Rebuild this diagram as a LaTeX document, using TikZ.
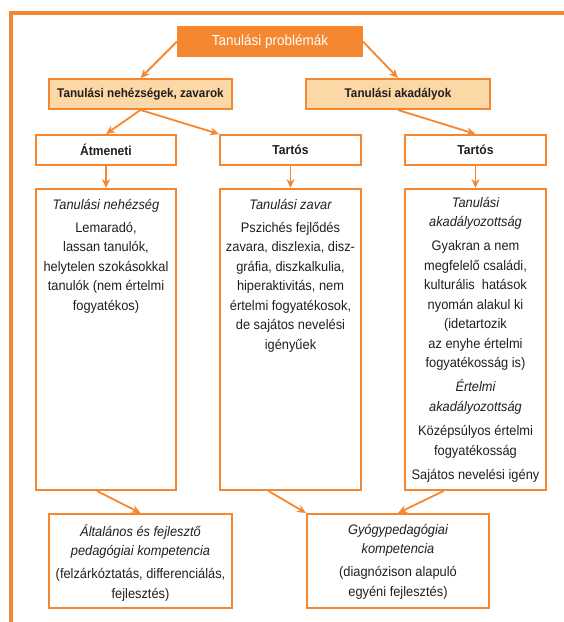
\documentclass[tikz,border=0pt]{standalone}
\usepackage{fontspec}
\setmainfont{Liberation Sans}[FakeStretch=0.93]
\usetikzlibrary{arrows.meta,calc}
\definecolor{org}{RGB}{245,135,48}
\definecolor{lightorg}{RGB}{252,216,166}
\definecolor{ink}{RGB}{35,30,25}
\tikzset{
  box/.style={draw=org, line width=2pt, inner sep=0pt},
  hdr/.style={box, fill=lightorg, font=\fontsize{12.6}{15}\selectfont\bfseries, text=ink},
  sub/.style={box, fill=white, font=\fontsize{13}{15}\selectfont\bfseries, text=ink},
  txt/.style={inner sep=0pt, align=center, anchor=north, text=ink, font=\fontsize{13.8}{19.5}\selectfont},
  arr/.style={draw=org, line width=1.8pt, -{Stealth[length=9pt,width=8pt]}},
}
\begin{document}
\begin{tikzpicture}[x=1pt,y=-1pt]
\useasboundingbox (0,0) rectangle (564,622);
% frame
\draw[org, line width=3.5pt] (11,622) -- (11,13) -- (564,13);
% top
\node[box, fill=org, text=white, font=\fontsize{14.5}{15}\selectfont, minimum width=184pt, minimum height=29pt] (top) at (270,41.5) {Tanulási problémák};
\node[hdr, minimum width=183pt, minimum height=30pt] (nehez) at (140.5,94) {Tanulási nehézségek, zavarok};
\node[hdr, minimum width=184pt, minimum height=30pt] (akad) at (398,94) {Tanulási akadályok};
\node[sub, minimum width=140pt, minimum height=30pt] (atm) at (106,150) {Átmeneti};
\node[sub, minimum width=141pt, minimum height=30pt] (t1) at (290.5,150) {Tartós};
\node[sub, minimum width=141pt, minimum height=30pt] (t2) at (475.5,150) {Tartós};
% big boxes
\node[box, minimum width=140pt, minimum height=301pt] (b1) at (106,339.5) {};
\node[box, minimum width=141pt, minimum height=301pt] (b2) at (290.5,339.5) {};
\node[box, minimum width=141pt, minimum height=301pt] (b3) at (475.5,339.5) {};
\node[txt] (b1t) at (106,199) {\itshape Tanulási nehézség\\[3.5pt]
Lemaradó,\\ lassan tanulók,\\ helytelen szokásokkal\\ tanulók (nem értelmi\\ fogyatékos)};
\node[txt] (b2t) at (290.5,199) {\itshape Tanulási zavar\\[3.5pt]
Pszichés fejlődés\\ zavara, diszlexia, disz-\\ gráfia, diszkalkulia,\\ hiperaktivitás, nem\\ értelmi fogyatékosok,\\ de sajátos nevelési\\ igényűek};
\node[txt] (b3t) at (475.5,197) {\itshape Tanulási\\ \itshape akadályozottság\\[4.5pt]
Gyakran a nem\\ megfelelő családi,\\ kulturális \ hatások\\ nyomán alakul ki\\ (idetartozik\\ az enyhe értelmi\\ fogyatékosság is)\\[4.5pt]
\itshape Értelmi\\ \itshape akadályozottság\\[5pt]
Középsúlyos értelmi\\ fogyatékosság\\[5pt]
Sajátos nevelési igény};
% bottom boxes
\node[box, minimum width=183pt, minimum height=94pt] (k1) at (140.5,561) {};
\node[box, minimum width=182pt, minimum height=94pt] (k2) at (398,561) {};
\node[txt] (k1t) at (140.5,524) {\itshape Általános és fejlesztő\\ \itshape pedagógiai kompetencia\\[3.5pt]
(felzárkóztatás, differenciálás,\\ fejlesztés)};
\node[txt] (k2t) at (398,524) {\itshape Gyógypedagógiai\\ \itshape kompetencia\\[3.5pt]
(diagnózison alapuló\\ egyéni fejlesztés)};
% arrows
\draw[arr] (top.west) -- (nehez.north);
\draw[arr] (top.east) -- (akad.north);
\draw[arr] (nehez.south) -- (atm.north);
\draw[arr] (nehez.south) -- (t1.north west);
\draw[arr] (akad.south) -- (t2.north);
\draw[arr] (atm.south) -- (b1.north);
\draw[arr] (t1.south) -- (b2.north);
\draw[arr] (t2.south) -- (b3.north);
\draw[arr] ($(b1.south)+(-9,0)$) -- (k1.north);
\draw[arr] ($(b2.south)+(-22,0)$) -- (k2.north west);
\draw[arr] ($(b3.south)+(-32,0)$) -- (k2.north);
\end{tikzpicture}
\end{document}
